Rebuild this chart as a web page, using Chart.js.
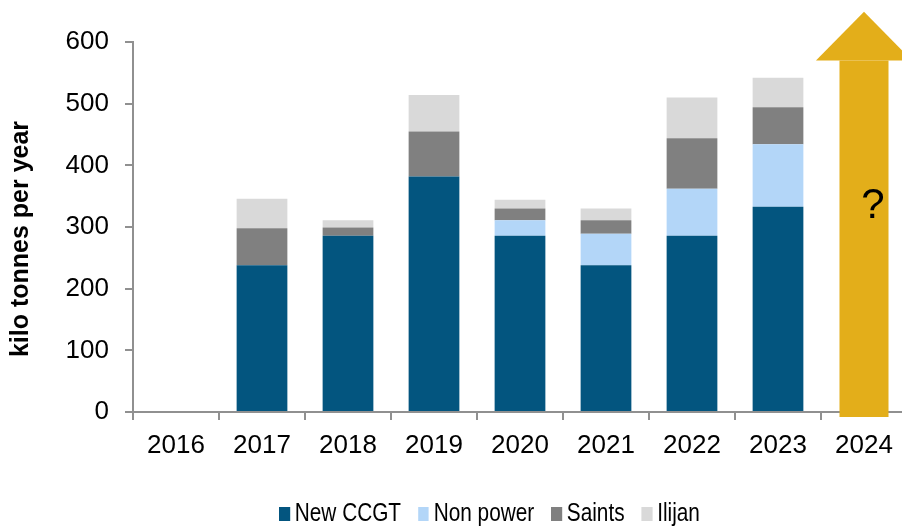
<!DOCTYPE html>
<html>
<head>
<meta charset="utf-8">
<script src="https://cdn.jsdelivr.net/npm/chart.js@4/dist/chart.umd.min.js"></script>
<style>
  body { margin: 0; width: 902px; height: 526px; overflow: hidden; position: relative; background: #fff; }
  #legend { position: absolute; left: 279px; top: 499px; font: 26px "Liberation Sans", Arial, sans-serif; line-height: 26px;
            color: #000; white-space: nowrap; transform: scaleX(0.8); transform-origin: left top; }
  #legend span.item { margin-right: 21px; }
  #legend span.box { display: inline-block; width: 13.7px; height: 14px; margin-right: 6px; vertical-align: baseline; }
</style>
</head>
<body>
<canvas id="chart" width="910" height="526"></canvas>
<div id="legend"></div>
<script>
const categories = ['2016', '2017', '2018', '2019', '2020', '2021', '2022', '2023', '2024'];
const newCcgt  = [null, 238, 286, 382, 286, 238, 286, 333, null];
const nonPower = [null, 0, 0, 0, 25, 51, 76, 101, null];
const saints   = [null, 60, 13, 73, 19, 22, 82, 60, null];
const ilijan   = [null, 48, 12, 59, 14, 19, 66, 48, null];
// the "?" arrow over 2024: body from -8 to 570, head up to 649
const arrowBody = [null, null, null, null, null, null, null, null, [-8, 570]];
const arrowTip = 649;
const yTicks = [0, 100, 200, 300, 400, 500, 600];
const yTitle = 'kilo tonnes per year';

const FONT = '"Liberation Sans", Arial, sans-serif';
const AXIS = '#909090';

const arrowHead = {
  id: 'arrowHead',
  afterDatasetsDraw(chart) {
    const meta = chart.getDatasetMeta(4);
    const bar = meta.data[8];
    if (!bar) return;
    const y = chart.scales.y;
    const ctx = chart.ctx;
    const half = bar.width * 0.98;
    const tip = y.getPixelForValue(arrowTip);
    ctx.save();
    ctx.fillStyle = '#E3AE1A';
    ctx.beginPath();
    ctx.moveTo(bar.x - half, bar.y);
    ctx.lineTo(bar.x + half, bar.y);
    ctx.lineTo(bar.x, tip);
    ctx.closePath();
    ctx.fill();
    ctx.fillStyle = '#000';
    ctx.font = '42px ' + FONT;
    ctx.textAlign = 'center';
    ctx.textBaseline = 'middle';
    ctx.fillText('?', bar.x + 9, y.getPixelForValue(333));
    ctx.restore();
  }
};

// y axis title, sitting a little below the middle of the axis like the original
const axisTitle = {
  id: 'axisTitle',
  afterDraw(chart) {
    const ctx = chart.ctx;
    const y = chart.scales.y;
    ctx.save();
    ctx.translate(21, (y.top + y.bottom) / 2 + 12);
    ctx.rotate(-Math.PI / 2);
    ctx.fillStyle = '#000';
    ctx.font = 'bold 25px ' + FONT;
    ctx.textAlign = 'center';
    ctx.textBaseline = 'middle';
    ctx.fillText(yTitle, 0, 0);
    ctx.restore();
  }
};

const chart = new Chart(document.getElementById('chart'), {
  type: 'bar',
  data: {
    labels: categories,
    datasets: [
      { label: 'New CCGT', data: newCcgt, backgroundColor: '#03557F', stack: 'main' },
      { label: 'Non power', data: nonPower, backgroundColor: '#B3D6F8', stack: 'main' },
      { label: 'Saints', data: saints, backgroundColor: '#808080', stack: 'main' },
      { label: 'Ilijan', data: ilijan, backgroundColor: '#D9D9D9', stack: 'main' },
      { label: 'arrow', data: arrowBody, backgroundColor: '#E3AE1A', stack: 'arrow',
        grouped: false, clip: false, barPercentage: 0.57 }
    ]
  },
  options: {
    responsive: false,
    animation: false,
    devicePixelRatio: 1,
    barPercentage: 0.59,
    categoryPercentage: 1,
    layout: { padding: { top: 42, right: 3, bottom: 64, left: 0 } },
    plugins: {
      legend: { display: false },
      tooltip: { enabled: false }
    },
    scales: {
      x: {
        stacked: true,
        afterFit(s) { s.height = 50; },
        grid: { drawOnChartArea: false, tickLength: 8, color: AXIS, lineWidth: 2, offset: true },
        border: { color: AXIS, width: 2 },
        ticks: { color: '#000', font: { family: FONT, size: 26 }, padding: 10, maxRotation: 0 }
      },
      y: {
        stacked: true,
        min: 0,
        max: 600,
        afterFit(s) { s.width = 133; },
        afterBuildTicks(s) { s.ticks = yTicks.map(v => ({ value: v })); },
        grid: { drawOnChartArea: false, tickLength: 8, color: AXIS, lineWidth: 2 },
        border: { color: AXIS, width: 2 },
        ticks: { color: '#000', font: { family: FONT, size: 26 }, padding: 16 }
      }
    }
  },
  plugins: [arrowHead, axisTitle]
});

// legend built from the first four datasets
const legend = document.getElementById('legend');
chart.data.datasets.slice(0, 4).forEach(ds => {
  const item = document.createElement('span');
  item.className = 'item';
  const box = document.createElement('span');
  box.className = 'box';
  box.style.background = ds.backgroundColor;
  item.appendChild(box);
  item.appendChild(document.createTextNode(ds.label));
  legend.appendChild(item);
});
</script>
</body>
</html>
